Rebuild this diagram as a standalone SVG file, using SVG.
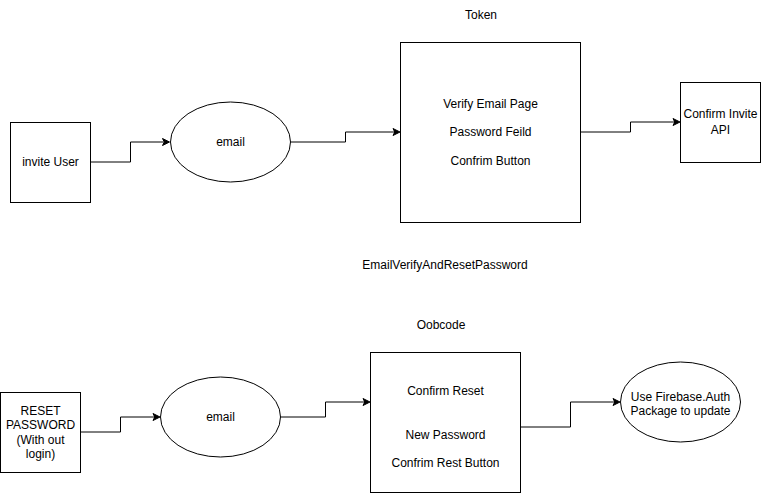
<svg xmlns="http://www.w3.org/2000/svg" width="761" height="503" viewBox="0 0 761 503">
<style>
  .shape { fill: #ffffff; stroke: #000000; stroke-width: 1; }
  .edge { fill: none; stroke: #000000; stroke-width: 1; }
  .head { fill: #000000; stroke: #000000; stroke-width: 1; }
  text { font-family: "Liberation Sans", Arial, sans-serif; font-size: 12px; fill: #000000; text-anchor: middle; }
</style>
<rect width="761" height="503" fill="#ffffff"/>
<g id="connectors">
  <path class="edge" d="M 90.5 162 L 130.5 162 L 130.5 142 L 163.5 142"/>
  <path class="head" d="M 169.5 142 L 162.5 145.5 L 164.25 142 L 162.5 138.5 Z"/>
  <path class="edge" d="M 290.5 142 L 345.5 142 L 345.5 132 L 394 132"/>
  <path class="head" d="M 400 132 L 393 135.5 L 394.75 132 L 393 128.5 Z"/>
  <path class="edge" d="M 580.5 132 L 630.5 132 L 630.5 122 L 674 122"/>
  <path class="head" d="M 680 122 L 673 125.5 L 674.75 122 L 673 118.5 Z"/>
  <path class="edge" d="M 80.5 432 L 120.5 432 L 120.5 417 L 154 417"/>
  <path class="head" d="M 160 417 L 153 420.5 L 154.75 417 L 153 413.5 Z"/>
  <path class="edge" d="M 280.5 417 L 325.5 417 L 325.5 402 L 364 402"/>
  <path class="head" d="M 370 402 L 363 405.5 L 364.75 402 L 363 398.5 Z"/>
  <path class="edge" d="M 520.5 427 L 570.5 427 L 570.5 402 L 614 402"/>
  <path class="head" d="M 620 402 L 613 405.5 L 614.75 402 L 613 398.5 Z"/>
</g>
<g id="label-token"><text x="481" y="19">Token</text></g>
<g id="label-emailverify"><text x="445" y="269">EmailVerifyAndResetPassword</text></g>
<g id="label-oobcode"><text x="441" y="329">Oobcode</text></g>
<g id="invite-user">
  <rect class="shape" x="10.5" y="122.5" width="80" height="80"/>
  <text x="50.5" y="166">invite User</text>
</g>
<g id="email-top">
  <ellipse class="shape" cx="230.5" cy="142" rx="60" ry="40"/>
  <text x="230.5" y="146">email</text>
</g>
<g id="verify-email-page">
  <rect class="shape" x="400.5" y="42.5" width="180" height="180"/>
  <text x="490.5" y="108">Verify Email Page</text>
  <text x="490.5" y="136">Password Feild</text>
  <text x="490.5" y="165">Confrim Button</text>
</g>
<g id="confirm-invite-api">
  <rect class="shape" x="680.5" y="82.5" width="80" height="80"/>
  <text x="720.5" y="118">Confirm Invite</text>
  <text x="720.5" y="134">API</text>
</g>
<g id="reset-password">
  <rect class="shape" x="0.5" y="392.5" width="80" height="80"/>
  <text x="40.5" y="415">RESET</text>
  <text x="40.5" y="429">PASSWORD</text>
  <text x="40.5" y="444">(With out</text>
  <text x="40.5" y="458">login)</text>
</g>
<g id="email-bottom">
  <ellipse class="shape" cx="220.5" cy="417" rx="60" ry="40"/>
  <text x="220.5" y="421">email</text>
</g>
<g id="confirm-reset">
  <rect class="shape" x="370.5" y="352.5" width="150" height="140"/>
  <text x="445.5" y="395">Confirm Reset</text>
  <text x="445.5" y="439">New Password</text>
  <text x="445.5" y="467">Confrim Rest Button</text>
</g>
<g id="firebase-auth">
  <ellipse class="shape" cx="680.5" cy="402" rx="60" ry="40"/>
  <text x="680.5" y="401">Use Firebase.Auth</text>
  <text x="680.5" y="415">Package to update</text>
</g>
</svg>
